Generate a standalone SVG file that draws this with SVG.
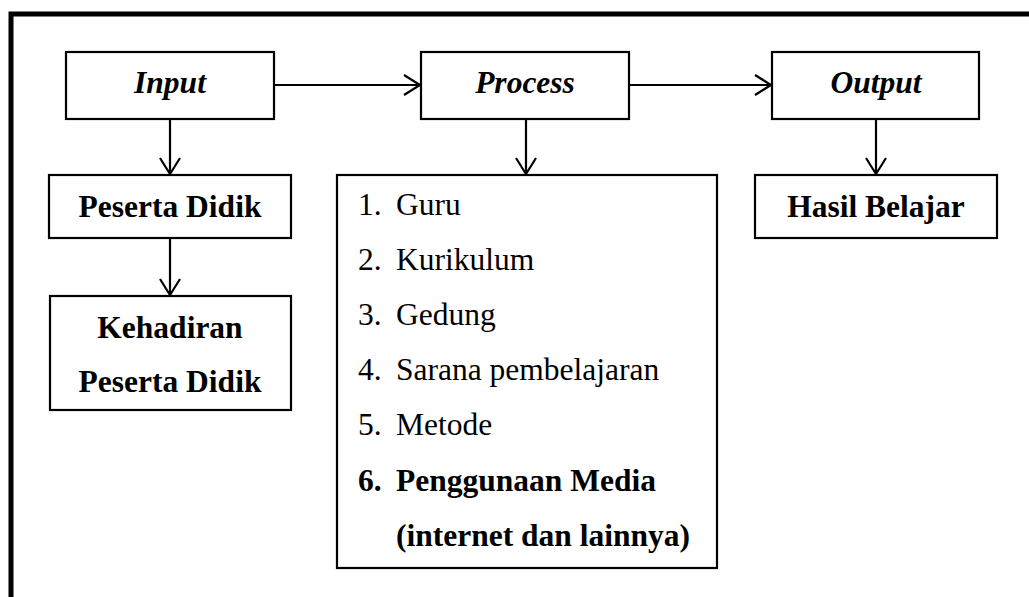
<svg xmlns="http://www.w3.org/2000/svg" width="1029" height="597" viewBox="0 0 1029 597">
<style>
.box{fill:#fff;stroke:#000;stroke-width:2.2}
.t{font-family:"Liberation Serif","Times New Roman",serif;font-size:31.5px;fill:#000}
.b{font-weight:bold}
.i{font-style:italic}
.m{text-anchor:middle}
.c{fill:none;stroke:#000;stroke-width:2.2}
</style>
<defs>
<marker id="ah" markerWidth="20" markerHeight="24" refX="17" refY="12" orient="auto" markerUnits="userSpaceOnUse">
<path d="M1,2 L17,12 L1,22" fill="none" stroke="#000" stroke-width="2.2"/>
</marker>
</defs>
<rect width="1029" height="597" fill="#fff"/>
<path d="M11,600 V14 H1032" fill="none" stroke="#000" stroke-width="5"/>
<g id="connectors">
<line class="c" x1="274" y1="85" x2="420" y2="85" marker-end="url(#ah)"/>
<line class="c" x1="629" y1="85" x2="771" y2="85" marker-end="url(#ah)"/>
<line class="c" x1="170" y1="119" x2="170" y2="174" marker-end="url(#ah)"/>
<line class="c" x1="526" y1="119" x2="526" y2="174" marker-end="url(#ah)"/>
<line class="c" x1="876" y1="119" x2="876" y2="174" marker-end="url(#ah)"/>
<line class="c" x1="170" y1="238" x2="170" y2="295" marker-end="url(#ah)"/>
</g>
<g id="input">
<rect class="box" x="66" y="52" width="208" height="67"/>
<text class="t b i m" x="170" y="93">Input</text>
</g>
<g id="process">
<rect class="box" x="421" y="52" width="208" height="67"/>
<text class="t b i m" x="525" y="93">Process</text>
</g>
<g id="output">
<rect class="box" x="772" y="52" width="207" height="67"/>
<text class="t b i m" x="876" y="93">Output</text>
</g>
<g id="peserta-didik">
<rect class="box" x="49" y="175" width="242" height="63"/>
<text class="t b m" x="170" y="217">Peserta Didik</text>
</g>
<g id="kehadiran">
<rect class="box" x="50" y="296" width="241" height="114"/>
<text class="t b m" x="170" y="338">Kehadiran</text>
<text class="t b m" x="170" y="392">Peserta Didik</text>
</g>
<g id="hasil-belajar">
<rect class="box" x="755" y="175" width="242" height="63"/>
<text class="t b m" x="876" y="217">Hasil Belajar</text>
</g>
<g id="process-list">
<rect class="box" x="337" y="175" width="380" height="393"/>
<text class="t" x="358" y="215">1.</text><text class="t" x="396" y="215">Guru</text>
<text class="t" x="358" y="270">2.</text><text class="t" x="396" y="270">Kurikulum</text>
<text class="t" x="358" y="325">3.</text><text class="t" x="396" y="325">Gedung</text>
<text class="t" x="358" y="380">4.</text><text class="t" x="396" y="380">Sarana pembelajaran</text>
<text class="t" x="358" y="435">5.</text><text class="t" x="396" y="435">Metode</text>
<text class="t b" x="358" y="491">6.</text><text class="t b" x="396" y="491">Penggunaan Media</text>
<text class="t b" x="396" y="546">(internet dan lainnya)</text>
</g>
</svg>
